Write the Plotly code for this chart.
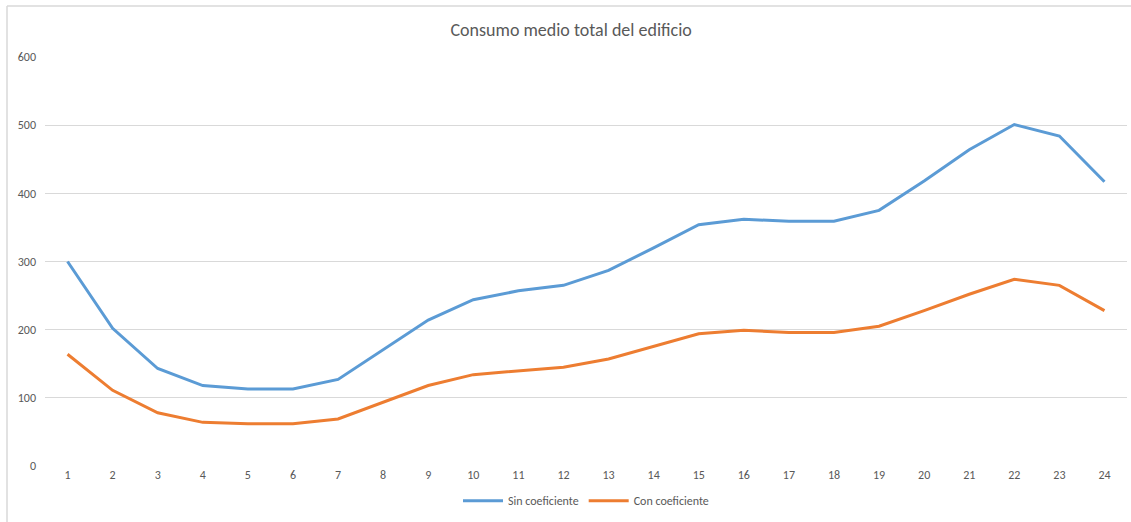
import plotly.graph_objects as go

hours = [str(i) for i in range(1, 25)]
sin_coef = [300, 202, 143, 118, 113, 113, 127, 170, 214, 244, 257, 265,
            287, 320, 354, 362, 359, 359, 375, 418, 464, 501, 484, 417]
con_coef = [164, 111, 78, 64, 62, 62, 69, 93, 118, 134, 140, 145,
            157, 176, 194, 199, 196, 196, 205, 228, 252, 274, 265, 228]
y_ticks = [0, 100, 200, 300, 400, 500, 600]

fig = go.Figure()
fig.add_trace(go.Scatter(x=hours, y=sin_coef, mode="lines", name="Sin coeficiente",
                         line=dict(color="#5B9BD5", width=3)))
fig.add_trace(go.Scatter(x=hours, y=con_coef, mode="lines", name="Con coeficiente",
                         line=dict(color="#ED7D31", width=3)))

font_fam = "Carlito, Calibri, 'Open Sans', 'Liberation Sans', sans-serif"

fig.update_layout(
    width=1131, height=522,
    paper_bgcolor="white", plot_bgcolor="white",
    margin=dict(l=45, r=4, t=57, b=56),
    title=dict(text="Consumo medio total del edificio", x=0.505, xanchor="center",
               y=0.943, yanchor="middle",
               font=dict(family=font_fam, size=18, color="#595959")),
    font=dict(family=font_fam, color="#595959", size=12),
    showlegend=True,
    legend=dict(orientation="h", x=0.5, xanchor="center", y=-0.085, yanchor="middle",
                font=dict(size=12, color="#595959"), itemwidth=40, traceorder="normal"),
    xaxis=dict(type="category", range=[-0.5, 23.5], showgrid=False, zeroline=False,
               showline=False, ticks="", tickfont=dict(size=12, color="#595959")),
    yaxis=dict(range=[0, 600], tickvals=y_ticks, showgrid=True, gridcolor="#D9D9D9",
               gridwidth=1, zeroline=False, showline=False, ticks="",
               tickfont=dict(size=12, color="#595959"), ticklabelstandoff=8),
    shapes=[
        dict(type="line", xref="paper", yref="paper", x0=(7 - 45) / 1082, x1=(1131 - 45) / 1082,
             y0=(466 - 6) / 409, y1=(466 - 6) / 409, line=dict(color="#D9D9D9", width=1.5)),
        dict(type="line", xref="paper", yref="paper", x0=(7 - 45) / 1082, x1=(7 - 45) / 1082,
             y0=(466 - 6) / 409, y1=(466 - 530) / 409, line=dict(color="#D9D9D9", width=1.5)),
    ],
)
fig.write_html("out.html")
